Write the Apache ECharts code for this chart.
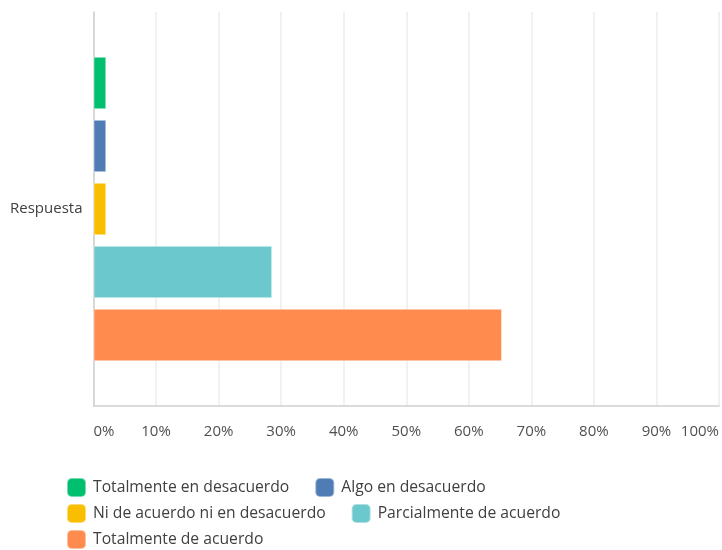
<!DOCTYPE html>
<html>
<head>
<meta charset="utf-8">
<script src="https://cdn.jsdelivr.net/npm/echarts@6/dist/echarts.min.js"></script>
<style>
  html, body { margin: 0; padding: 0; background: #fff; }
  #chart { width: 722px; height: 550px; }
</style>
</head>
<body>
<div id="chart"></div>
<script>
// Survey answer shares (% of respondents)
const categories = ['Respuesta'];
const seriesNames = [
  'Totalmente en desacuerdo',
  'Algo en desacuerdo',
  'Ni de acuerdo ni en desacuerdo',
  'Parcialmente de acuerdo',
  'Totalmente de acuerdo'
];
const totalmenteDesacuerdo = [2.04];
const algoDesacuerdo = [2.04];
const niAcuerdoNiDesacuerdo = [2.04];
const parcialmenteAcuerdo = [28.57];
const totalmenteAcuerdo = [65.31];
const seriesValues = [totalmenteDesacuerdo, algoDesacuerdo, niAcuerdoNiDesacuerdo, parcialmenteAcuerdo, totalmenteAcuerdo];
const seriesColors = ['#00BF6F', '#507CB6', '#F9BE00', '#6BC8CD', '#FF8B4F'];

const FONT = '"Open Sans", sans-serif';
const chart = echarts.init(document.getElementById('chart'), null, { renderer: 'canvas' });

const legendBase = {
  orient: 'horizontal',
  left: 66,
  padding: 0,
  itemWidth: 19,
  itemHeight: 19,
  itemGap: 25,
  icon: 'roundRect',
  textStyle: { fontFamily: FONT, fontSize: 15.7, color: '#404040', padding: [0, 0, 0, 2] },
  selectedMode: true
};

chart.setOption({
  animation: false,
  backgroundColor: '#ffffff',
  grid: { left: 93.5, right: 0.5, top: 12, bottom: 144, containLabel: false },
  legend: [
    Object.assign({}, legendBase, { top: 477, data: [seriesNames[0], seriesNames[1]] }),
    Object.assign({}, legendBase, { top: 503, data: [seriesNames[2], seriesNames[3]] }),
    Object.assign({}, legendBase, { top: 529, data: [seriesNames[4]] })
  ],
  xAxis: {
    type: 'value',
    min: 0,
    max: 100,
    interval: 10,
    axisLine: { show: true, lineStyle: { color: '#cfcfcf', width: 1.5 } },
    axisTick: { show: false },
    splitLine: { show: true, lineStyle: { color: '#ececec', width: 1.5 } },
    axisLabel: {
      formatter: '{value}%',
      fontFamily: FONT,
      fontSize: 15,
      color: '#505050',
      margin: 18,
      alignMinLabel: 'left',
      alignMaxLabel: 'right'
    }
  },
  yAxis: {
    type: 'category',
    data: categories,
    inverse: true,
    axisLine: { show: true, lineStyle: { color: '#cfcfcf', width: 1.5 } },
    axisTick: { show: false },
    splitLine: { show: false },
    axisLabel: { fontFamily: FONT, fontSize: 15, color: '#404040', margin: 11 }
  },
  series: seriesNames.map((name, i) => ({
    name: name,
    type: 'bar',
    data: seriesValues[i],
    barWidth: 52.5,
    barGap: '20%',
    itemStyle: {
      color: seriesColors[i],
      borderColor: 'rgba(255,255,255,0.45)',
      borderWidth: 1
    },
    emphasis: { disabled: true }
  }))
});
</script>
</body>
</html>
